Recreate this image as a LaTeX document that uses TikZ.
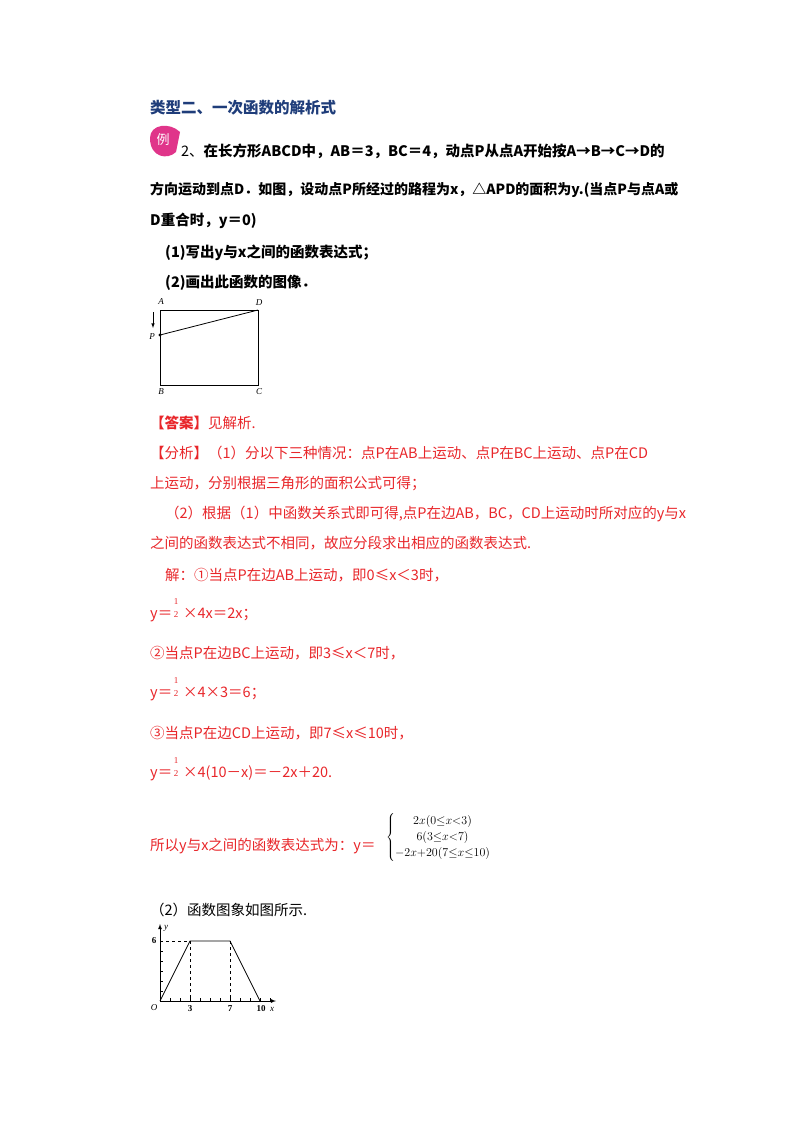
\documentclass[tikz,border=0pt]{standalone}
\usepackage{fontspec}
\setmainfont{Liberation Serif}
\newfontfamily\cjk{Noto Sans CJK SC}
\definecolor{rd}{HTML}{E8262A}
\definecolor{tb}{HTML}{1F3D7A}
\definecolor{mg}{HTML}{E0358A}
\begin{document}
\begin{tikzpicture}[x=1pt,y=-1pt,
 txt/.style={anchor=base west,inner sep=0,font=\cjk\fontsize{14.5}{16}\selectfont},
 rtxt/.style={txt,text=rd},
 lab/.style={inner sep=0,font=\itshape\fontsize{9}{9}\selectfont},
 ax/.style={line width=0.8pt,-latex},
 fr/.style={inner sep=0,font=\fontsize{9}{9}\selectfont,text=rd}]
\useasboundingbox (0,0) rectangle (800,1132);
\node[txt,font=\cjk\bfseries\fontsize{15.5}{16}\selectfont,text=tb] (title) at (150,113) {类型二、一次函数的解析式};
\fill[mg] (150,138) .. controls (150,124) and (170,122) .. (180,132) -- (176,152) .. controls (168,160) and (150,158) .. (150,138) -- cycle;
\node[inner sep=0,text=white,font=\cjk\fontsize{13}{13}\selectfont] (li) at (163,140) {例};
\node[txt] (l1) at (181,156) {2、\textbf{在长方形ABCD中，AB＝3，BC＝4，动点P从点A开始按A→B→C→D的}};
\node[txt,font=\cjk\fontsize{14}{16}\selectfont] (l2) at (150,194) {\textbf{方向运动到点D．如图，设动点P所经过的路程为x，△APD的面积为y.(当点P与点A或}};
\node[txt] (l3) at (150,225) {\textbf{D重合时，y＝0)}};
\node[txt] (l4) at (165,257) {\textbf{(1)写出y与x之间的函数表达式；}};
\node[txt] (l5) at (165,287) {\textbf{(2)画出此函数的图像．}};
% rectangle figure
\coordinate (A) at (160,310); \coordinate (D) at (258,310);
\coordinate (B) at (160,385); \coordinate (C) at (258,385);
\coordinate (P) at (160,335);
\draw[line width=0.9pt] (A) -- (D) -- (C) -- (B) -- cycle;
\draw[line width=0.8pt] (P) -- (D);
\fill (P) circle (1.6);
\coordinate (a1) at (153,312); \coordinate (a2) at (153,328);
\draw[-latex,line width=0.6pt] (a1) -- (a2);
\node[lab] (LA) at (161,302) {A};
\node[lab] (LD) at (259,303) {D};
\node[lab] (LP) at (152,337) {P};
\node[lab] (LB) at (161,392) {B};
\node[lab] (LC) at (259,392) {C};
% answer
\node[rtxt] (r1) at (150,428) {\textbf{【答案】}见解析.};
\node[rtxt] (r2) at (150,458) {【分析】（1）分以下三种情况：点P在AB上运动、点P在BC上运动、点P在CD};
\node[rtxt] (r3) at (150,488) {上运动，分别根据三角形的面积公式可得；};
\node[rtxt] (r4) at (165,518) {（2）根据（1）中函数关系式即可得,点P在边AB，BC，CD上运动时所对应的y与x};
\node[rtxt] (r5) at (150,548) {之间的函数表达式不相同，故应分段求出相应的函数表达式.};
\node[rtxt] (r6) at (165,580) {解：①当点P在边AB上运动，即0≤x＜3时，};
\node[rtxt] (r7) at (150,618) {y＝\hspace{0.75em}×4x＝2x；};
\node[fr] (f1a) at (176,602) {1}; \node[fr] (f1b) at (176,615) {2};
\node[rtxt] (r8) at (150,658) {②当点P在边BC上运动，即3≤x＜7时，};
\node[rtxt] (r9) at (150,697) {y＝\hspace{0.75em}×4×3＝6；};
\node[fr] (f2a) at (176,681) {1}; \node[fr] (f2b) at (176,694) {2};
\node[rtxt] (r10) at (150,738) {③当点P在边CD上运动，即7≤x≤10时，};
\node[rtxt] (r11) at (150,777) {y＝\hspace{0.75em}×4(10－x)＝－2x＋20.};
\node[fr] (f3a) at (176,761) {1}; \node[fr] (f3b) at (176,774) {2};
\node[rtxt] (r12) at (150,850) {所以y与x之间的函数表达式为：y＝};
\node[anchor=west,inner sep=0,font=\fontsize{12.5}{14}\selectfont] (pw) at (386,837)
 {$\left\{\renewcommand{\arraystretch}{1.15}\begin{array}{@{}c@{}}
 2x\mathopen{}\left(0{\le}x{<}3\right)\\ 6\mathopen{}\left(3{\le}x{<}7\right)\\ -2x{+}20\mathopen{}\left(7{\le}x{\le}10\right)\end{array}\right.$};
\node[txt] (g0) at (150,915) {（2）函数图象如图所示.};
% graph
\coordinate (O) at (160,1001);
\coordinate (xe) at (276,1001); \coordinate (ye) at (160,924);
\draw[ax] (O) -- (xe);
\draw[ax] (O) -- (ye);
\foreach \i in {1,...,11} \draw[line width=0.5pt] (160+10*\i,1001) -- (160+10*\i,998);
\foreach \j in {1,...,6} \draw[line width=0.5pt] (160,1001-10*\j) -- (163,1001-10*\j);
\coordinate (p3) at (190,941); \coordinate (p7) at (230,941);
\coordinate (p10) at (260,1001); \coordinate (y6) at (160,941);
\coordinate (x3) at (190,1001); \coordinate (x7) at (230,1001);
\draw[line width=0.8pt] (O) -- (p3) -- (p7) -- (p10);
\draw[dashed,line width=0.5pt] (y6) -- (p3) -- (x3);
\draw[dashed,line width=0.5pt] (p7) -- (x7);
\node[inner sep=0,font=\bfseries\fontsize{9}{9}\selectfont] (t6) at (154,941) {6};
\node[inner sep=0,font=\itshape\fontsize{9}{9}\selectfont] (tO) at (154,1008) {O};
\node[inner sep=0,font=\bfseries\fontsize{9}{9}\selectfont] (t3) at (190,1009) {3};
\node[inner sep=0,font=\bfseries\fontsize{9}{9}\selectfont] (t7) at (230,1009) {7};
\node[inner sep=0,font=\bfseries\fontsize{9}{9}\selectfont] (t10) at (261,1009) {10};
\node[inner sep=0,font=\itshape\fontsize{9}{9}\selectfont] (tx) at (272,1009) {x};
\node[inner sep=0,font=\itshape\fontsize{9}{9}\selectfont] (ty) at (166,928) {y};
\end{tikzpicture}
\end{document}
